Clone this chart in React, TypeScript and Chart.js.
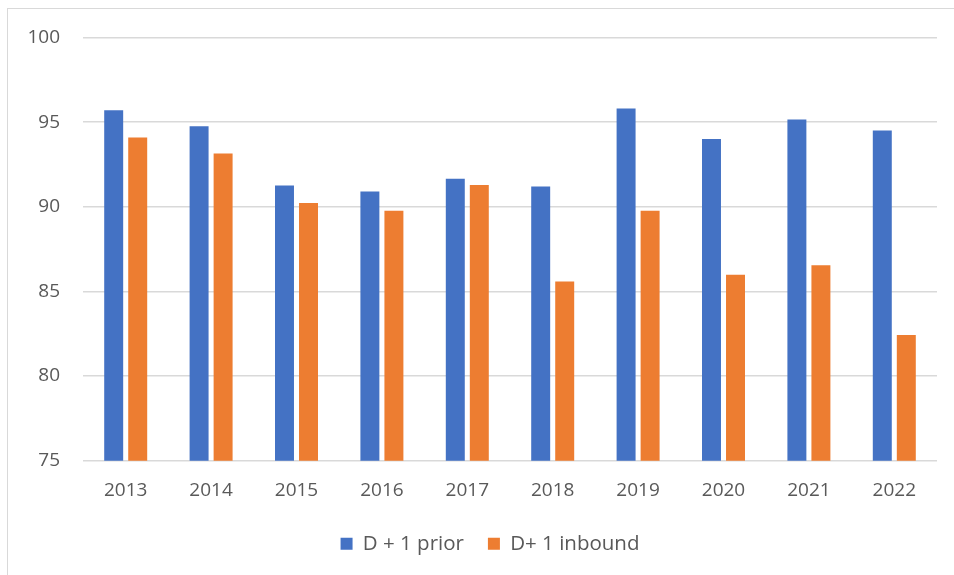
import React, { useEffect, useRef } from "react";
import { Chart, registerables } from "chart.js";

Chart.register(...registerables);

const categories = ["2013", "2014", "2015", "2016", "2017", "2018", "2019", "2020", "2021", "2022"];
const priorValues = [95.7, 94.75, 91.25, 90.9, 91.65, 91.2, 95.8, 94.0, 95.15, 94.5];
const inboundValues = [94.1, 93.15, 90.22, 89.76, 91.28, 85.58, 89.76, 85.98, 86.55, 82.42];
const seriesNames = ["D + 1 prior", "D+ 1 inbound"];
const yMin = 75;
const yMax = 100;
const yStep = 5;

const FONT = "'Open Sans', 'Noto Sans', sans-serif";
const TEXT = "#595959";

const shiftLegend = {
  id: "shiftLegend",
  afterLayout(chart: any) {
    const l = chart.legend;
    if (l) {
      l.left += 21.5;
      l.right += 21.5;
    }
  },
};

export default function App() {
  const ref = useRef<HTMLCanvasElement | null>(null);

  useEffect(() => {
    if (!ref.current) return;
    const chart = new Chart(ref.current, {
      type: "bar",
      data: {
        labels: categories,
        datasets: [
          {
            label: seriesNames[0],
            data: priorValues,
            backgroundColor: "#4472C4",
            barPercentage: 0.79,
            categoryPercentage: 0.5625,
          },
          {
            label: seriesNames[1],
            data: inboundValues,
            backgroundColor: "#ED7D31",
            barPercentage: 0.79,
            categoryPercentage: 0.5625,
          },
        ],
      },
      plugins: [shiftLegend],
      options: {
        animation: false,
        responsive: false,
        maintainAspectRatio: false,
        layout: { padding: { left: 0, right: 17, top: 37.5, bottom: 11 } },
        plugins: {
          tooltip: { enabled: false },
          legend: {
            position: "bottom",
            labels: {
              boxWidth: 12,
              boxHeight: 12,
              padding: 24,
              color: TEXT,
              font: { family: FONT, size: 20.5 },
            },
          },
        },
        scales: {
          x: {
            grid: { display: false },
            border: { display: false },
            ticks: {
              color: TEXT,
              font: { family: FONT, size: 19 },
              padding: 10,
            },
            afterFit: (scale: any) => {
              scale.height -= 2;
            },
          },
          y: {
            min: yMin,
            max: yMax,
            ticks: {
              stepSize: yStep,
              color: TEXT,
              font: { family: FONT, size: 19 },
              padding: 23,
            },
            grid: { color: "#d9d9d9", lineWidth: 1.5, drawTicks: false },
            border: { display: false },
            afterFit: (scale: any) => {
              scale.width = 83;
            },
          },
        },
      },
    });
    return () => chart.destroy();
  }, []);

  return (
    <div style={{ position: "fixed", left: 0, top: 0, width: 954, height: 575, background: "#fff" }}>
      <div
        style={{
          position: "absolute",
          left: 7,
          top: 8,
          width: 960,
          height: 580,
          border: "1px solid #d9d9d9",
          boxSizing: "border-box",
        }}
      />
      <canvas ref={ref} width={954} height={575} style={{ position: "absolute", left: 0, top: 0 }} />
    </div>
  );
}
